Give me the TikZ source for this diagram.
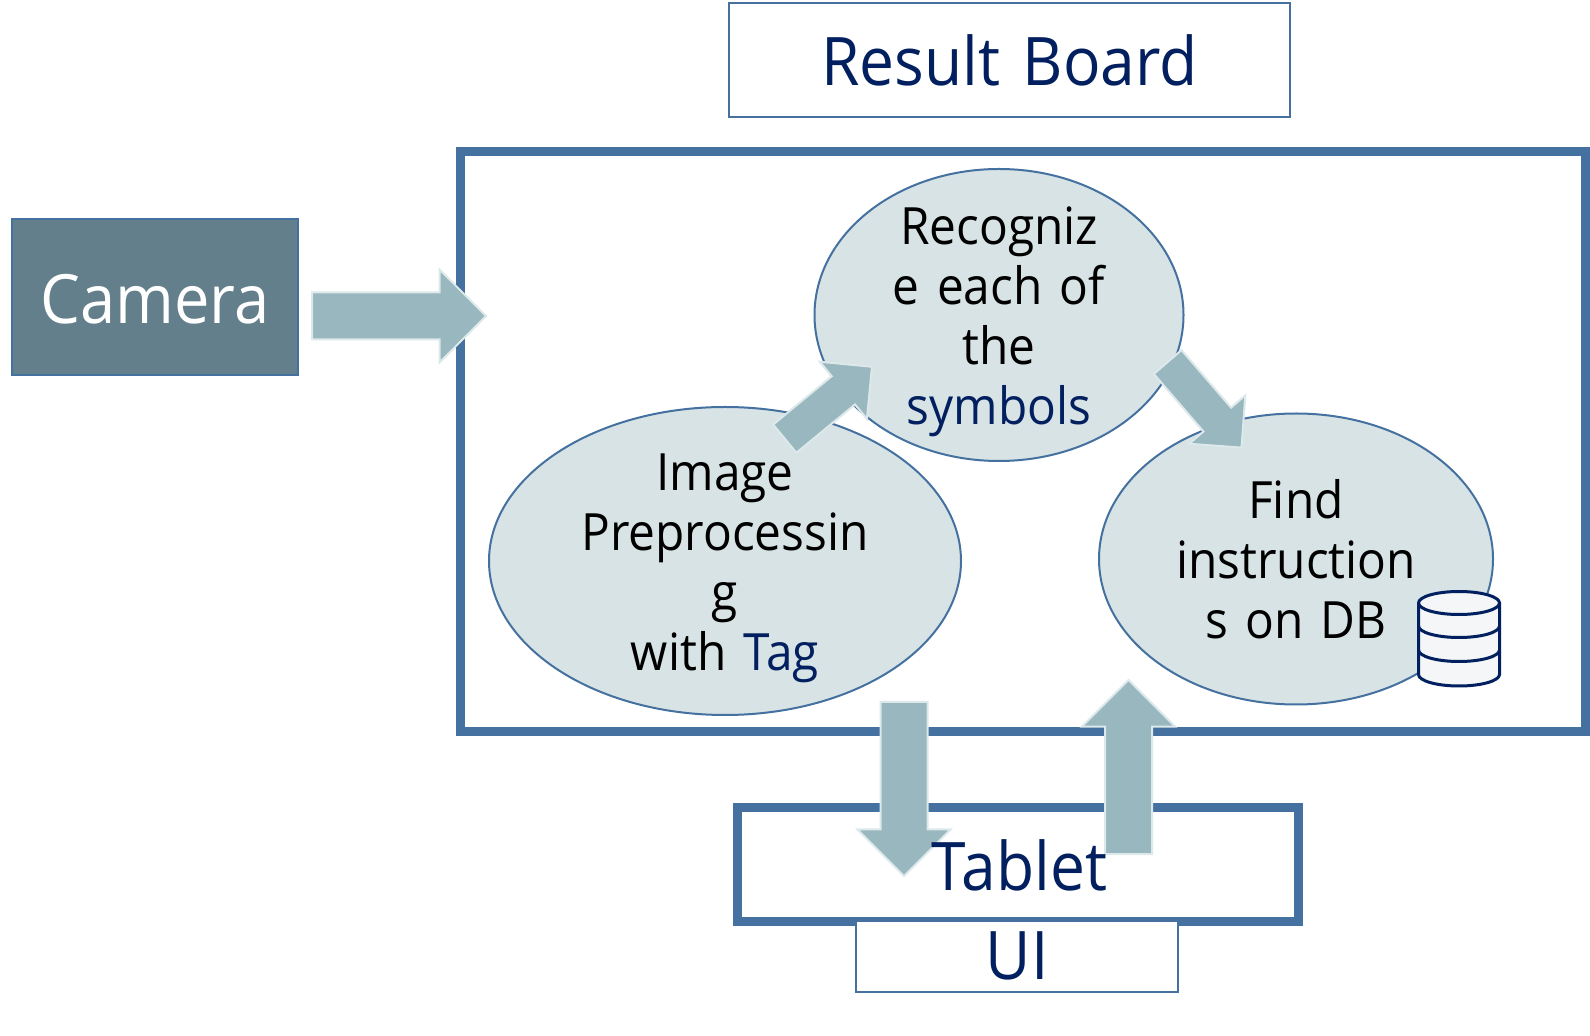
\documentclass[tikz,border=0pt]{standalone}
\usepackage{fontspec}
\setmainfont{Open Sans}[FakeStretch=0.93,WordSpace=1.4]
\usetikzlibrary{shapes.geometric, shapes.arrows}
\definecolor{edgeblue}{HTML}{44719F}
\definecolor{navy}{HTML}{02205F}
\definecolor{bubble}{HTML}{D8E3E5}
\definecolor{camgrey}{HTML}{647F8C}
\definecolor{arrowfill}{HTML}{98B7BF}
\definecolor{arrowedge}{HTML}{DDE8EA}
\definecolor{dbfill}{HTML}{F4F6F8}
\tikzset{
  thinbox/.style={draw=edgeblue, line width=1pt, fill=white, text=navy, inner sep=0pt, font=\fontsize{33.5}{36}\selectfont},
  thickbox/.style={draw=edgeblue, line width=4.5pt, inner sep=0pt},
  bubblenode/.style={draw=edgeblue, line width=1pt, fill=bubble, ellipse, inner sep=0pt},
  bubbletext/.style={inner sep=0pt, align=center, font=\fontsize{25.7}{30}\selectfont},
  bigarrow/.style={draw=arrowedge, line width=1pt, fill=arrowfill, single arrow, anchor=tail, single arrow head extend=11.5pt, text height=22.5pt, text depth=0pt, minimum height=87pt, inner sep=0pt},
  smallarrow/.style={bigarrow, single arrow head extend=9.4pt, text height=17.25pt, minimum height=56.5pt},
  dbline/.style={draw=navy, line width=1.5pt},
}
\begin{document}
\begin{tikzpicture}[x=0.5pt, y=-0.5pt]
\useasboundingbox (0,0) rectangle (1590,1036);
\node[thinbox, minimum width=280.5pt, minimum height=57pt](board) at (1009.5,60){Result Board};
\node[thickbox, minimum width=562.5pt, minimum height=289.75pt](system) at (1023,441.75){};
\node[draw=edgeblue, line width=1pt, fill=camgrey, text=white, inner sep=0pt, minimum width=143pt, minimum height=78pt, text height=27pt, text depth=0pt, font=\fontsize{34}{36}\selectfont](cam) at (155,297){Camera};
\node[bubblenode, minimum width=184.5pt, minimum height=146pt](rec) at (999,315){};
\node[bubbletext](rectext) at (999,321.5){Recogniz\\e each of\\the\\\textcolor{navy}{symbols}};
\node[bubblenode, minimum width=236pt, minimum height=154pt](img) at (725,561){};
\node[bubbletext](imgtext) at (725,568.5){Image\\Preprocessin\\g\\with \textcolor{navy}{Tag}};
\node[bubblenode, minimum width=197pt, minimum height=145.5pt](find) at (1296,559){};
\node[bubbletext](findtext) at (1296,559){Find\\instruction\\s on DB};
\node[thickbox, minimum width=280.5pt, minimum height=57pt](tablet) at (1018,864.5){};
\node[thinbox, minimum width=161pt, minimum height=35.5pt](ui) at (1017,956){UI};
\node[bigarrow](camarrow) at (311,316){};
\node[smallarrow, rotate=39.5](imgarrow) at (784,439.3){};
\node[smallarrow, rotate=-49.2](recarrow) at (1167,361.3){};
\node[bigarrow, rotate=-90](downarrow) at (904,701){};
\node[bigarrow, rotate=90](uparrow) at (1128.5,855){};
\node[inner sep=0pt, text=navy, font=\fontsize{33.5}{36}\selectfont](tablettext) at (1019.5,865){Tablet};
\path[dbline, fill=dbfill] (1418.5,603) -- (1418.5,674.5) arc (180:0:40.5 and 11.5) -- (1499.5,603) arc (0:-180:40.5 and 11.5) -- cycle;
\path[dbline] (1418.5,603) arc (180:0:40.5 and 11.5);
\path[dbline] (1418.5,626) arc (180:0:40.5 and 11.5);
\path[dbline] (1418.5,650) arc (180:0:40.5 and 11.5);
\end{tikzpicture}
\end{document}
